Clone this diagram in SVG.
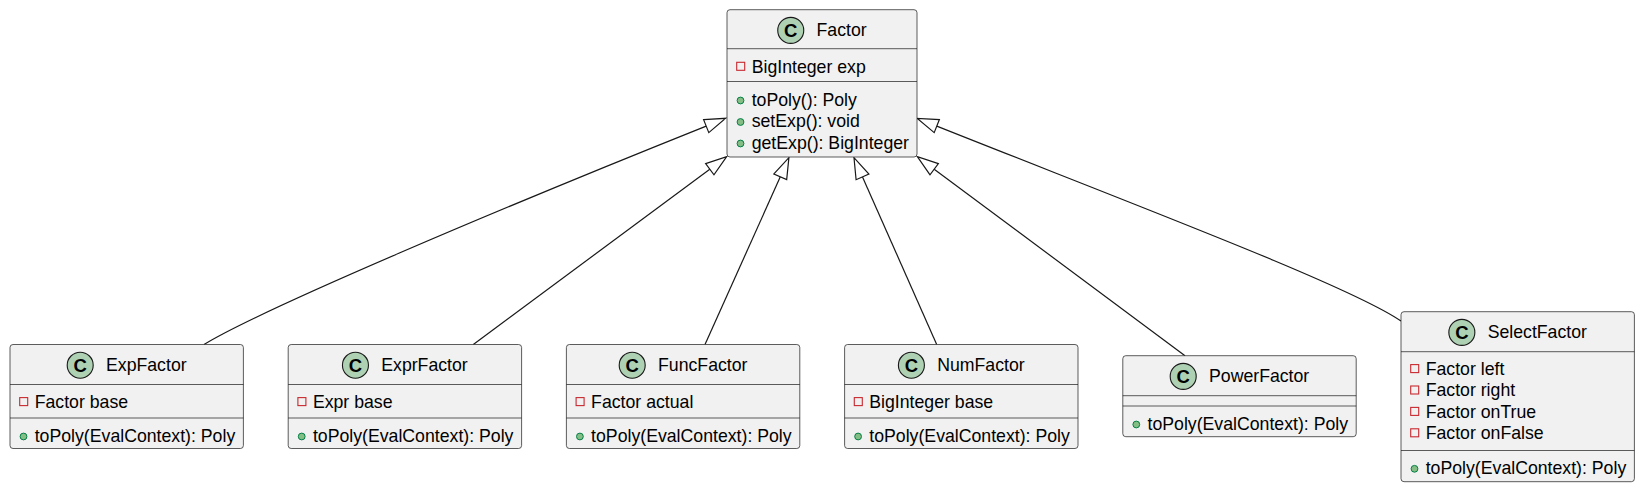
<svg xmlns="http://www.w3.org/2000/svg" width="1642" height="490" viewBox="0 0 1642 490">
<defs>
<style>
.box{fill:#F1F1F1;stroke:#181818;stroke-width:0.7}
.sep{stroke:#181818;stroke-width:0.7}
.badge{fill:#ADD1B2;stroke:#181818;stroke-width:1.1}
.c{font-family:"Liberation Sans",Arial,sans-serif;font-weight:bold;font-size:18.5px;fill:#000;text-anchor:middle}
.t{font-family:"Liberation Sans",Arial,sans-serif;font-size:17.7px;fill:#000}
.priv{fill:none;stroke:#C82930;stroke-width:1.1}
.pub{fill:#84BE84;stroke:#038048;stroke-width:1}
.edge{fill:none;stroke:#181818;stroke-width:1.2}
</style>
<marker id="ext" markerUnits="userSpaceOnUse" markerWidth="24" markerHeight="18" refX="0" refY="9" orient="auto" viewBox="0 0 24 18" overflow="visible">
<path d="M0,2 L21,9 L0,16 Z" fill="#FFFFFF" stroke="#181818" stroke-width="1.2"/>
</marker>
</defs>
<rect width="1642" height="490" fill="#FFFFFF"/>

<g id="connectors">
<path class="edge" d="M204,344.5 C260,310 500,208.6 706.2,126.1" marker-end="url(#ext)"/>
<path class="edge" d="M473.3,344.5 L709.8,169.2" marker-end="url(#ext)"/>
<path class="edge" d="M705,344.5 L780.3,176.8" marker-end="url(#ext)"/>
<path class="edge" d="M936.7,344.5 L862.5,176.9" marker-end="url(#ext)"/>
<path class="edge" d="M1185,355.7 L934.2,169.2" marker-end="url(#ext)"/>
<path class="edge" d="M1401,321 C1350,286 1141.4,207.5 936.8,126.1" marker-end="url(#ext)"/>
</g>

<g id="Factor">
<rect class="box" x="727" y="9.7" width="190" height="147.3" rx="3"/>
<line class="sep" x1="727" y1="48.7" x2="917" y2="48.7"/>
<line class="sep" x1="727" y1="81.5" x2="917" y2="81.5"/>
<circle class="badge" cx="790.75" cy="30.4" r="13"/>
<text class="c" x="790.75" y="37">C</text>
<text class="t" x="816.55" y="36.4">Factor</text>
<rect class="priv" x="736.7" y="62.3" width="8" height="8"/>
<text class="t" x="751.7" y="72.7">BigInteger exp</text>
<circle class="pub" cx="740.5" cy="100.5" r="3.4"/>
<text class="t" x="751.7" y="105.5">toPoly(): Poly</text>
<circle class="pub" cx="740.5" cy="122" r="3.4"/>
<text class="t" x="751.7" y="127">setExp(): void</text>
<circle class="pub" cx="740.5" cy="143.5" r="3.4"/>
<text class="t" x="751.7" y="148.5">getExp(): BigInteger</text>
</g>

<g id="ExpFactor">
<rect class="box" x="10" y="344.5" width="233.4" height="104" rx="3"/>
<line class="sep" x1="10" y1="384.5" x2="243.4" y2="384.5"/>
<line class="sep" x1="10" y1="418" x2="243.4" y2="418"/>
<circle class="badge" cx="80.2" cy="365.2" r="13"/>
<text class="c" x="80.2" y="371.8">C</text>
<text class="t" x="106" y="371.2">ExpFactor</text>
<rect class="priv" x="19.7" y="397.6" width="8" height="8"/>
<text class="t" x="34.7" y="408">Factor base</text>
<circle class="pub" cx="23.5" cy="436.5" r="3.4"/>
<text class="t" x="34.7" y="441.5">toPoly(EvalContext): Poly</text>
</g>

<g id="ExprFactor">
<rect class="box" x="288.2" y="344.5" width="233.4" height="104" rx="3"/>
<line class="sep" x1="288.2" y1="384.5" x2="521.6" y2="384.5"/>
<line class="sep" x1="288.2" y1="418" x2="521.6" y2="418"/>
<circle class="badge" cx="355.45" cy="365.2" r="13"/>
<text class="c" x="355.45" y="371.8">C</text>
<text class="t" x="381.25" y="371.2">ExprFactor</text>
<rect class="priv" x="297.9" y="397.6" width="8" height="8"/>
<text class="t" x="312.9" y="408">Expr base</text>
<circle class="pub" cx="301.7" cy="436.5" r="3.4"/>
<text class="t" x="312.9" y="441.5">toPoly(EvalContext): Poly</text>
</g>

<g id="FuncFactor">
<rect class="box" x="566.4" y="344.5" width="233.4" height="104" rx="3"/>
<line class="sep" x1="566.4" y1="384.5" x2="799.8" y2="384.5"/>
<line class="sep" x1="566.4" y1="418" x2="799.8" y2="418"/>
<circle class="badge" cx="632.2" cy="365.2" r="13"/>
<text class="c" x="632.2" y="371.8">C</text>
<text class="t" x="658" y="371.2">FuncFactor</text>
<rect class="priv" x="576.1" y="397.6" width="8" height="8"/>
<text class="t" x="591.1" y="408">Factor actual</text>
<circle class="pub" cx="579.9" cy="436.5" r="3.4"/>
<text class="t" x="591.1" y="441.5">toPoly(EvalContext): Poly</text>
</g>

<g id="NumFactor">
<rect class="box" x="844.6" y="344.5" width="233.4" height="104" rx="3"/>
<line class="sep" x1="844.6" y1="384.5" x2="1078" y2="384.5"/>
<line class="sep" x1="844.6" y1="418" x2="1078" y2="418"/>
<circle class="badge" cx="911.4" cy="365.2" r="13"/>
<text class="c" x="911.4" y="371.8">C</text>
<text class="t" x="937.2" y="371.2">NumFactor</text>
<rect class="priv" x="854.3" y="397.6" width="8" height="8"/>
<text class="t" x="869.3" y="408">BigInteger base</text>
<circle class="pub" cx="858.1" cy="436.5" r="3.4"/>
<text class="t" x="869.3" y="441.5">toPoly(EvalContext): Poly</text>
</g>

<g id="PowerFactor">
<rect class="box" x="1122.8" y="355.7" width="233.4" height="81" rx="3"/>
<line class="sep" x1="1122.8" y1="395.7" x2="1356.2" y2="395.7"/>
<line class="sep" x1="1122.8" y1="406" x2="1356.2" y2="406"/>
<circle class="badge" cx="1183.2" cy="376.4" r="13"/>
<text class="c" x="1183.2" y="383">C</text>
<text class="t" x="1209" y="382.4">PowerFactor</text>
<circle class="pub" cx="1136.3" cy="424.5" r="3.4"/>
<text class="t" x="1147.5" y="429.5">toPoly(EvalContext): Poly</text>
</g>

<g id="SelectFactor">
<rect class="box" x="1401" y="311.7" width="233.4" height="170" rx="3"/>
<line class="sep" x1="1401" y1="351.7" x2="1634.4" y2="351.7"/>
<line class="sep" x1="1401" y1="450.5" x2="1634.4" y2="450.5"/>
<circle class="badge" cx="1461.85" cy="332.4" r="13"/>
<text class="c" x="1461.85" y="339">C</text>
<text class="t" x="1487.65" y="338.4">SelectFactor</text>
<rect class="priv" x="1410.7" y="364.6" width="8" height="8"/>
<text class="t" x="1425.7" y="375">Factor left</text>
<rect class="priv" x="1410.7" y="386" width="8" height="8"/>
<text class="t" x="1425.7" y="396.4">Factor right</text>
<rect class="priv" x="1410.7" y="407.4" width="8" height="8"/>
<text class="t" x="1425.7" y="417.8">Factor onTrue</text>
<rect class="priv" x="1410.7" y="428.8" width="8" height="8"/>
<text class="t" x="1425.7" y="439.2">Factor onFalse</text>
<circle class="pub" cx="1414.5" cy="468.8" r="3.4"/>
<text class="t" x="1425.7" y="473.8">toPoly(EvalContext): Poly</text>
</g>
</svg>
